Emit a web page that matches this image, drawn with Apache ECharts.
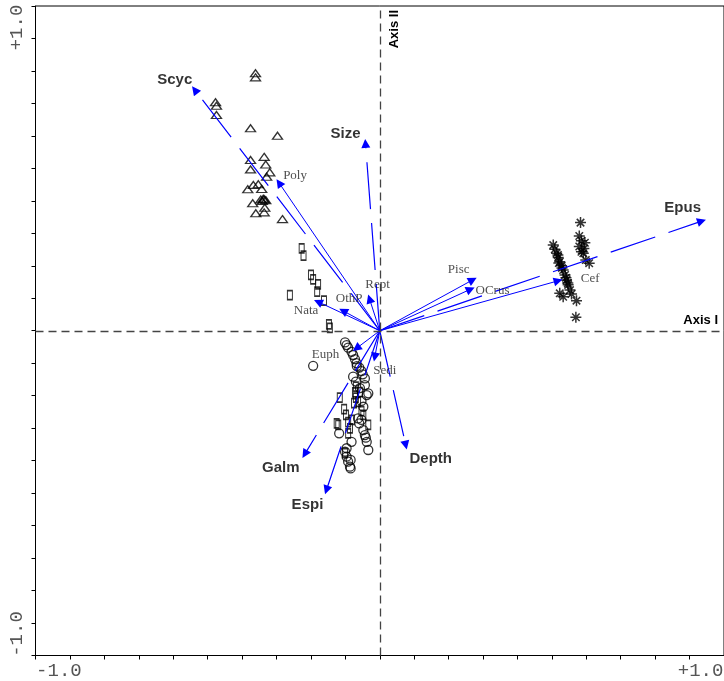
<!DOCTYPE html>
<html>
<head>
<meta charset="utf-8">
<script src="https://cdn.jsdelivr.net/npm/echarts@6/dist/echarts.min.js"></script>
<style>
html,body{margin:0;padding:0;background:#fff;}
#chart{width:724px;height:681px;}
</style>
</head>
<body>
<div id="chart"></div>
<script>
// ---- Data ----
const arrowNames = ['Scyc','Size','Epus','Galm','Espi','Depth','Poly','Nata','OthP','Rept','Pisc','OCrus','Cef','Euph','Sedi'];
const arrowX = [-0.597,-0.046, 1.039,-0.242,-0.172, 0.084,-0.325,-0.199,-0.118,-0.033, 0.300, 0.293, 0.576,-0.075,-0.016];
const arrowY = [ 0.824, 0.641, 0.375,-0.422,-0.545,-0.391, 0.506, 0.099, 0.068, 0.109, 0.174, 0.142, 0.171,-0.060,-0.090];
const boldArrows = ['Scyc','Size','Epus','Galm','Espi','Depth'];

const triangles = [
 [-0.401,0.881],[-0.401,0.867],[-0.530,0.782],[-0.527,0.770],[-0.527,0.738],[-0.417,0.693],
 [-0.330,0.667],[-0.373,0.595],[-0.417,0.584],[-0.368,0.569],[-0.417,0.552],[-0.355,0.542],
 [-0.365,0.527],[-0.392,0.501],[-0.408,0.499],[-0.426,0.484],[-0.381,0.485],[-0.373,0.450],
 [-0.379,0.444],[-0.368,0.447],[-0.410,0.436],[-0.371,0.421],[-0.400,0.402],[-0.373,0.405],
 [-0.314,0.382],[-0.376,0.452],[-0.384,0.449]
];
const squares = [
 [-0.252,0.282],[-0.246,0.257],[-0.222,0.191],[-0.215,0.176],[-0.199,0.159],[-0.202,0.134],
 [-0.290,0.122],[-0.180,0.103],[-0.164,0.022],[-0.161,0.010],
 [-0.129,-0.229],[-0.080,-0.211],[-0.077,-0.229],[-0.083,-0.248],[-0.070,-0.243],[-0.059,-0.275],
 [-0.053,-0.288],[-0.115,-0.268],[-0.109,-0.288],[-0.139,-0.317],[-0.134,-0.322],[-0.102,-0.313],
 [-0.096,-0.334],[-0.102,-0.351],[-0.037,-0.322],[-0.077,-0.191],[-0.112,-0.419],[-0.090,-0.305],
 [-0.064,-0.210]
];
const circles = [
 [-0.215,-0.120],[-0.112,-0.040],[-0.102,-0.058],[-0.091,-0.072],[-0.086,-0.083],[-0.080,-0.097],
 [-0.075,-0.111],[-0.066,-0.126],[-0.059,-0.138],[-0.055,-0.149],[-0.048,-0.186],[-0.042,-0.220],
 [-0.059,-0.240],[-0.059,-0.305],[-0.066,-0.317],[-0.053,-0.340],[-0.048,-0.357],[-0.042,-0.380],
 [-0.037,-0.408],[-0.091,-0.380],[-0.107,-0.402],[-0.112,-0.414],[-0.107,-0.431],[-0.102,-0.448],
 [-0.094,-0.471],[-0.131,-0.351],[-0.086,-0.157],[-0.077,-0.174],[-0.070,-0.300],[-0.107,-0.049],
 [-0.048,-0.163],[-0.037,-0.214],[-0.053,-0.260],[-0.045,-0.366],[-0.096,-0.465],[-0.094,-0.442],
 [-0.074,-0.121],[-0.064,-0.196]
];
const asterisks = [
 [0.648,0.370],[0.644,0.324],[0.651,0.308],[0.662,0.301],[0.644,0.288],[0.651,0.270],[0.657,0.265],
 [0.665,0.242],[0.676,0.231],[0.659,0.281],
 [0.560,0.293],[0.565,0.279],[0.571,0.265],[0.576,0.251],[0.581,0.236],[0.587,0.222],[0.592,0.208],
 [0.598,0.191],[0.603,0.174],[0.608,0.157],[0.614,0.139],[0.581,0.128],[0.592,0.116],[0.619,0.126],
 [0.635,0.103],[0.633,0.046],[0.575,0.259],[0.588,0.215],[0.601,0.181],[0.607,0.163],[0.578,0.232]
];
const tickLabels = {'-1': '-1.0', '1': '+1.0'};

// ---- Styles ----
const labelOffsets = {
  Scyc:[-20,-10], Size:[-20,-10], Epus:[-19,-13], Galm:[-24,14], Espi:[-19,15], Depth:[25,14],
  Poly:[16,-7], Nata:[-12,9], OthP:[6,-12], Rept:[8,-14], Pisc:[-14,-10], OCrus:[22,1], Cef:[32,-2],
  Euph:[-31,6], Sedi:[10,14]
};
const BLUE = '#0000ff';
const asteriskPath = 'path://M5 0L5 10M0 5L10 5M1.6 1.6L8.4 8.4M1.6 8.4L8.4 1.6';
const hollow = {color:'rgba(0,0,0,0)', borderColor:'#000', borderWidth:1.3};

const solidLines = [], dashedLines = [], labelPts = [];
arrowNames.forEach((n,i) => {
  const item = {name:n, coords:[[0,0],[arrowX[i],arrowY[i]]]};
  (boldArrows.includes(n) ? dashedLines : solidLines).push(item);
  const bold = boldArrows.includes(n);
  labelPts.push({
    name:n, value:[arrowX[i],arrowY[i]],
    label:{show:true, position:'inside', offset:labelOffsets[n], formatter:n,
      fontFamily: bold ? '"Liberation Sans", Arial, sans-serif' : '"Liberation Serif", "Times New Roman", serif',
      fontWeight: bold ? 'bold' : 'normal',
      fontSize: bold ? 15 : 13,
      color: bold ? '#000' : '#222'}
  });
});

function tickFmt(v){
  if (Math.abs(v+1) < 1e-6) return '{l|' + tickLabels['-1'] + '}';
  if (Math.abs(v-1) < 1e-6) return '{r|' + tickLabels['1'] + '}';
  return '';
}
const tickRich = {
  l:{padding:[0,22,0,0], fontFamily:'"Liberation Mono", "Courier New", monospace', fontSize:19, color:'#555'},
  r:{padding:[0,0,0,22], fontFamily:'"Liberation Mono", "Courier New", monospace', fontSize:19, color:'#555'}
};
const axisCommon = {
  type:'value', min:-10/9, max:10/9, interval:1/9,
  axisLine:{show:true, onZero:false, lineStyle:{color:'#000', width:1}},
  axisTick:{show:true, length:4, lineStyle:{color:'#000', width:1}},
  splitLine:{show:false},
};

const chart = echarts.init(document.getElementById('chart'));
chart.setOption({
  animation:false,
  backgroundColor:'#fff',
  grid:{left:35.5, right:0, top:6, bottom:25.5, show:true, borderColor:'#000', borderWidth:1,
        containLabel:false, outerBoundsMode:'none'},
  xAxis: Object.assign({}, axisCommon, {
    axisLabel:{show:true, formatter:tickFmt, margin:6, rich:tickRich, showMinLabel:true, showMaxLabel:true}
  }),
  yAxis: Object.assign({}, axisCommon, {
    axisLabel:{show:true, formatter:tickFmt, margin:9, rotate:90, rich:tickRich, showMinLabel:true, showMaxLabel:true}
  }),
  series:[
    {
      type:'scatter', name:'axes', data:[], silent:true,
      markLine:{
        silent:true, symbol:['none','none'], animation:false,
        lineStyle:{color:'#444', type:[8,5], width:1.3},
        label:{fontFamily:'"Liberation Sans", Arial, sans-serif', fontWeight:'bold', fontSize:13, color:'#000'},
        data:[
          {yAxis:0, label:{formatter:'Axis I', position:'insideEndTop', distance:[6,4]}},
          {xAxis:0, label:{formatter:'Axis II', position:'insideEndBottom', distance:[4,8]}}
        ]
      }
    },
    {type:'scatter', name:'triangles', data:triangles, symbol:'triangle', symbolSize:[10,7], itemStyle:hollow, z:3},
    {type:'scatter', name:'squares', data:squares, symbol:'rect', symbolSize:[5,9], itemStyle:hollow, z:3},
    {type:'scatter', name:'circles', data:circles, symbol:'circle', symbolSize:9, itemStyle:hollow, z:3},
    {type:'scatter', name:'asterisks', data:asterisks, symbol:asteriskPath, symbolSize:11, symbolKeepAspect:true,
      itemStyle:{color:'rgba(0,0,0,0)', borderColor:'#000', borderWidth:1.5}, z:3},
    {type:'lines', coordinateSystem:'cartesian2d', data:solidLines, symbol:['none','triangle'], symbolSize:[6,9],
      lineStyle:{color:BLUE, width:1, opacity:1}, z:4, silent:true},
    {type:'lines', coordinateSystem:'cartesian2d', data:dashedLines, symbol:['none','triangle'], symbolSize:[6,9],
      lineStyle:{color:BLUE, width:1.2, type:[47,14], opacity:1}, z:4, silent:true},
    {type:'scatter', name:'labels', data:labelPts, symbolSize:0, z:5, silent:true}
  ]
});
</script>
</body>
</html>
